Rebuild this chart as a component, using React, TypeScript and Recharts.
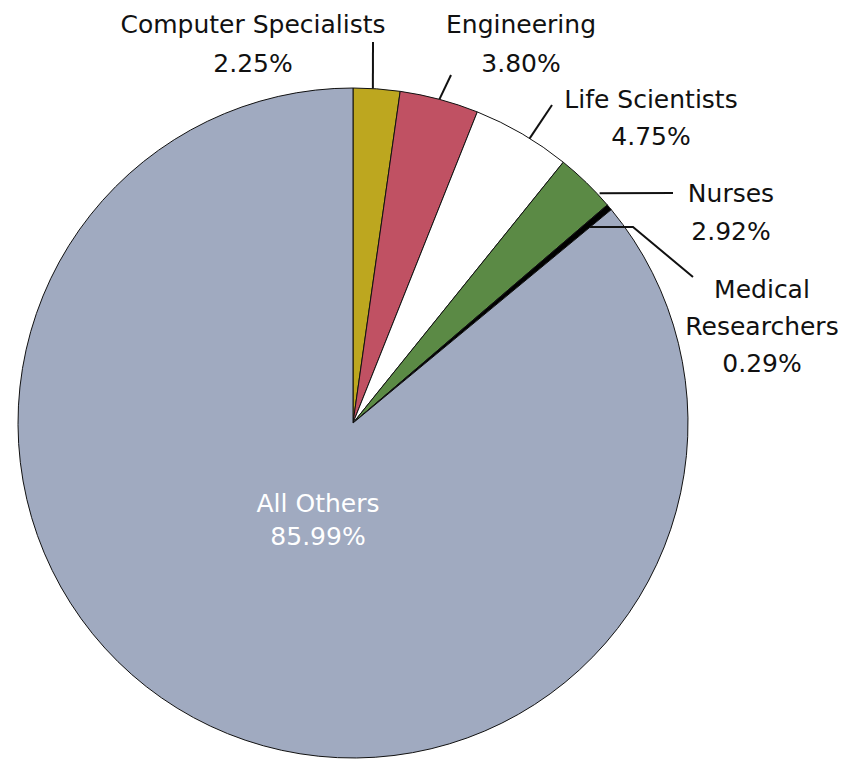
import React from "react";
import { PieChart, Pie, Cell } from "recharts";

const categories = [
  "Computer Specialists",
  "Engineering",
  "Life Scientists",
  "Nurses",
  "Medical Researchers",
  "All Others",
];
const shares = [2.25, 3.8, 4.75, 2.92, 0.29, 85.99];
const valueLabels = ["2.25%", "3.80%", "4.75%", "2.92%", "0.29%", "85.99%"];
const colors = ["#bda71f", "#c05163", "#ffffff", "#5b8a45", "#000000", "#a0aac0"];

const data = categories.map((name, i) => ({ name, value: shares[i] }));

type Layout = {
  lines: string[];
  x: number;
  y0: number;
  dy: number;
  fill: string;
  dAngle?: number;
  rFactor?: number;
  path?: [number, number][];
};

const layouts: Layout[] = [
  { lines: ["Computer Specialists", valueLabels[0]], x: 245, y0: 25, dy: 39, fill: "#111", dAngle: 0.65, rFactor: 1, path: [[365, 34]] },
  { lines: ["Engineering", valueLabels[1]], x: 513, y0: 25, dy: 39, fill: "#111", dAngle: 0, rFactor: 1, path: [[443, 67]] },
  { lines: ["Life Scientists", valueLabels[2]], x: 643, y0: 100, dy: 37, fill: "#111", dAngle: -1.5, rFactor: 1, path: [[544, 97]] },
  { lines: ["Nurses", valueLabels[3]], x: 723, y0: 194, dy: 38, fill: "#111", dAngle: -2.9, rFactor: 1.006, path: [[665, 185]] },
  { lines: ["Medical", "Researchers", valueLabels[4]], x: 754, y0: 290, dy: 37, fill: "#111", dAngle: -0.5, rFactor: 0.918, path: [[625, 219], [685, 269]] },
  { lines: ["All Others", valueLabels[5]], x: 310, y0: 504, dy: 33, fill: "#ffffff" },
];

const RAD = Math.PI / 180;

const renderLabel = (props: any) => {
  const { cx, cy, midAngle, outerRadius, index } = props;
  const l = layouts[index];
  if (!l) return null;
  let pathEl = null;
  if (l.path) {
    const a = (midAngle + (l.dAngle || 0)) * RAD;
    const r = outerRadius * (l.rFactor || 1);
    const sx = cx + r * Math.cos(-a);
    const sy = cy + r * Math.sin(-a);
    const pts = [[sx, sy], ...l.path];
    pathEl = (
      <polyline
        points={pts.map((p) => p.join(",")).join(" ")}
        fill="none"
        stroke="#111"
        strokeWidth={2}
      />
    );
  }
  return (
    <g key={`lbl-${index}`}>
      {pathEl}
      {l.lines.map((t, k) => (
        <text
          key={k}
          x={l.x}
          y={l.y0 + k * l.dy}
          textAnchor="middle"
          fill={l.fill}
          fontFamily="'DejaVu Sans', sans-serif"
          fontSize={25}
        >
          {t}
        </text>
      ))}
    </g>
  );
};

export default function App() {
  return (
    <PieChart width={847} height={760} margin={{ top: 0, right: 0, bottom: 0, left: 0 }}>
      <Pie
        data={data}
        dataKey="value"
        nameKey="name"
        cx={345}
        cy={415}
        outerRadius={335}
        startAngle={90}
        endAngle={-270}
        stroke="#111"
        strokeWidth={1}
        label={renderLabel}
        labelLine={false}
        isAnimationActive={false}
      >
        {data.map((d, i) => (
          <Cell key={d.name} fill={colors[i]} />
        ))}
      </Pie>
    </PieChart>
  );
}
